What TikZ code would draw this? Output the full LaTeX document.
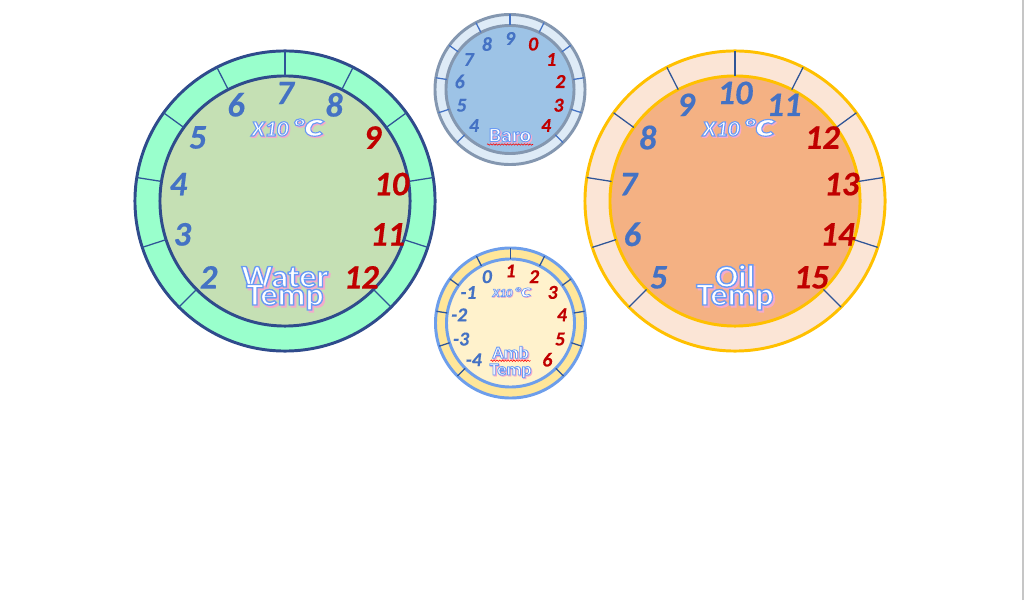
\documentclass[tikz,border=0pt]{standalone}
\usepackage{fontspec}
\setmainfont{Carlito}
\newfontfamily\artfont[FakeStretch=1.08]{Carlito}
\newfontfamily\numfont[FakeBold=0.4]{Carlito Bold Italic}
\newfontfamily\degfont[FakeSlant=0.15,FakeStretch=1.4]{Noto Sans CJK SC}
\usepackage{tikz}
\usetikzlibrary{calc, decorations.pathmorphing}

\definecolor{numblue}{HTML}{4472C4}
\definecolor{numred}{HTML}{C00000}
\definecolor{artblue}{HTML}{6A9BF4}
\definecolor{artpink}{HTML}{F4AACB}
\definecolor{waterring}{HTML}{99FFCC}
\definecolor{waterface}{HTML}{C5E0B4}
\definecolor{waterrim}{HTML}{2F4B8C}
\definecolor{baroring}{HTML}{DEEBF7}
\definecolor{baroface}{HTML}{9DC3E6}
\definecolor{barorim}{HTML}{8497B0}
\definecolor{ambring}{HTML}{FFE699}
\definecolor{ambface}{HTML}{FFF2CC}
\definecolor{ambrim}{HTML}{6D9EEB}
\definecolor{oilring}{HTML}{FBE5D6}
\definecolor{oilface}{HTML}{F4B183}
\definecolor{oilrim}{HTML}{FFC000}
\definecolor{darktick}{HTML}{2F5597}

% white lettering, blue outline, pink shadow (text render mode 2)
\newcommand{\artword}[2][1]{\leavevmode
  \rlap{\kern0.06em\raisebox{-0.06em}{\textcolor{artpink}{\special{pdf:literal direct 2 Tr #1 w}#2\special{pdf:literal direct 0 Tr 0.4 w}}}}%
  \textcolor{artblue}{\special{pdf:literal direct 1 g 2 Tr #1 w}#2\special{pdf:literal direct 0 Tr 0.4 w}}}
\newcommand{\degC}{{\degfont ℃}}

\begin{document}
\begin{tikzpicture}[x=0.025cm, y=0.025cm,
    bigring/.style={circle, inner sep=0pt, outer sep=0pt, line width=2.1pt, minimum size=7.5cm},
    bigface/.style={circle, inner sep=0pt, outer sep=0pt, line width=2.1pt, minimum size=6.25cm},
    smallring/.style={circle, inner sep=0pt, outer sep=0pt, line width=2.1pt, minimum size=3.75cm},
    smallface/.style={circle, inner sep=0pt, outer sep=0pt, line width=2.1pt, minimum size=3.2cm},
    tickline/.style={line width=0.9pt},
    bignum/.style={inner sep=0pt, font=\numfont\fontsize{24.5}{24.5}\selectfont},
    smallnum/.style={inner sep=0pt, font=\numfont\fontsize{14}{14}\selectfont},
    artlabel/.style={inner sep=0pt, anchor=base},
    squiggle/.style={draw=red, line width=0.4pt, decorate, decoration={snake, amplitude=0.5pt, segment length=2pt}}]

    \useasboundingbox (0,0) rectangle (1024,600);

    % water temp
    \node[bigring, fill=waterring, draw=waterrim] (water) at (285,399) {};
    \node[bigface, fill=waterface, draw=waterrim] (waterface) at (water) {};
    \foreach \a in {225,198,171,144,117,90,63,36,9,-18,-45}
        \draw[tickline, darktick] (waterface.\a) -- (water.\a);
    \foreach \n/\c [count=\k from 0] in {2/numblue,3/numblue,4/numblue,5/numblue,6/numblue,7/numblue,8/numblue,9/numred,10/numred,11/numred,12/numred}
        \node[bignum, text=\c] (wn\k) at ($(water)+({225-27*\k}:108)$) {\n};
    \node[artlabel, font=\artfont\fontsize{15.5}{15.5}\selectfont\bfseries\itshape] (waterunit) at ($(water)+(2,65)$) {\artword[0.8]{X10\,\degC}};
    \node[artlabel, font=\artfont\fontsize{22.5}{22.5}\selectfont\bfseries] (waterlab) at ($(water)+(0,-86)$) {\artword[1]{Water}};
    \node[artlabel, font=\artfont\fontsize{22.5}{22.5}\selectfont\bfseries] (watertemp) at ($(water)+(0,-104)$) {\artword[1]{Temp}};

    % oil temp
    \node[bigring, fill=oilring, draw=oilrim] (oil) at (735,399) {};
    \node[bigface, fill=oilface, draw=oilrim] (oilface) at (oil) {};
    \foreach \a in {225,198,171,144,117,90,63,36,9,-18,-45}
        \draw[tickline, darktick] (oilface.\a) -- (oil.\a);
    \foreach \n/\c [count=\k from 0] in {5/numblue,6/numblue,7/numblue,8/numblue,9/numblue,10/numblue,11/numblue,12/numred,13/numred,14/numred,15/numred}
        \node[bignum, text=\c] (on\k) at ($(oil)+({225-27*\k}:108)$) {\n};
    \node[artlabel, font=\artfont\fontsize{15.5}{15.5}\selectfont\bfseries\itshape] (oilunit) at ($(oil)+(3,65)$) {\artword[0.8]{X10\,\degC}};
    \node[artlabel, font=\artfont\fontsize{22.5}{22.5}\selectfont\bfseries] (oillab) at ($(oil)+(0,-86)$) {\artword[1]{Oil}};
    \node[artlabel, font=\artfont\fontsize{22.5}{22.5}\selectfont\bfseries] (oiltemp) at ($(oil)+(0,-104)$) {\artword[1]{Temp}};

    % baro
    \node[smallring, fill=baroring, draw=barorim] (baro) at (510,510.5) {};
    \node[smallface, fill=baroface, draw=barorim] (baroface) at (baro) {};
    \foreach \a in {225,198,171,144,117,90,63,36,9,-18,-45}
        \draw[tickline, numblue] (baroface.\a) -- (baro.\a);
    \foreach \n/\c [count=\k from 0] in {4/numblue,5/numblue,6/numblue,7/numblue,8/numblue,9/numblue,0/numred,1/numred,2/numred,3/numred,4/numred}
        \node[smallnum, text=\c] (bn\k) at ($(baro)+({225-27*\k}:51)$) {\n};
    \node[artlabel, font=\artfont\fontsize{14.4}{14.4}\selectfont\bfseries] (barolab) at ($(baro)+(0,-52.2)$) {\artword[0.7]{Baro}};
    \draw[squiggle] ($(baro)+(-23,-55)$) -- ($(baro)+(23,-55)$);

    % amb temp
    \node[smallring, fill=ambring, draw=ambrim] (amb) at (510.5,277) {};
    \node[smallface, fill=ambface, draw=ambrim] (ambface) at (amb) {};
    \foreach \a in {225,198,171,144,117,90,63,36,9,-18,-45}
        \draw[tickline, darktick] (ambface.\a) -- (amb.\a);
    \foreach \n/\c [count=\k from 0] in {-4/numblue,-3/numblue,-2/numblue,-1/numblue,0/numblue,1/numred,2/numred,3/numred,4/numred,5/numred,6/numred}
        \node[smallnum, text=\c] (an\k) at ($(amb)+({225-27*\k}:52)$) {\n};
    \node[artlabel, font=\artfont\fontsize{8.3}{8.3}\selectfont\bfseries\itshape] (ambunit) at ($(amb)+(1,26.3)$) {\artword[0.45]{X10\,\degC}};
    \node[artlabel, font=\artfont\fontsize{12.2}{12.2}\selectfont\bfseries] (amblab) at ($(amb)+(0,-35.3)$) {\artword[0.6]{Amb}};
    \node[artlabel, font=\artfont\fontsize{12.2}{12.2}\selectfont\bfseries] (ambtemp) at ($(amb)+(0,-52)$) {\artword[0.6]{Temp}};
    \draw[squiggle] ($(amb)+(-20,-37.7)$) -- ($(amb)+(20,-37.7)$);

    % page edge
    \draw[gray!45, line width=0.8pt] (1023,0) -- (1023,600);
\end{tikzpicture}
\end{document}
